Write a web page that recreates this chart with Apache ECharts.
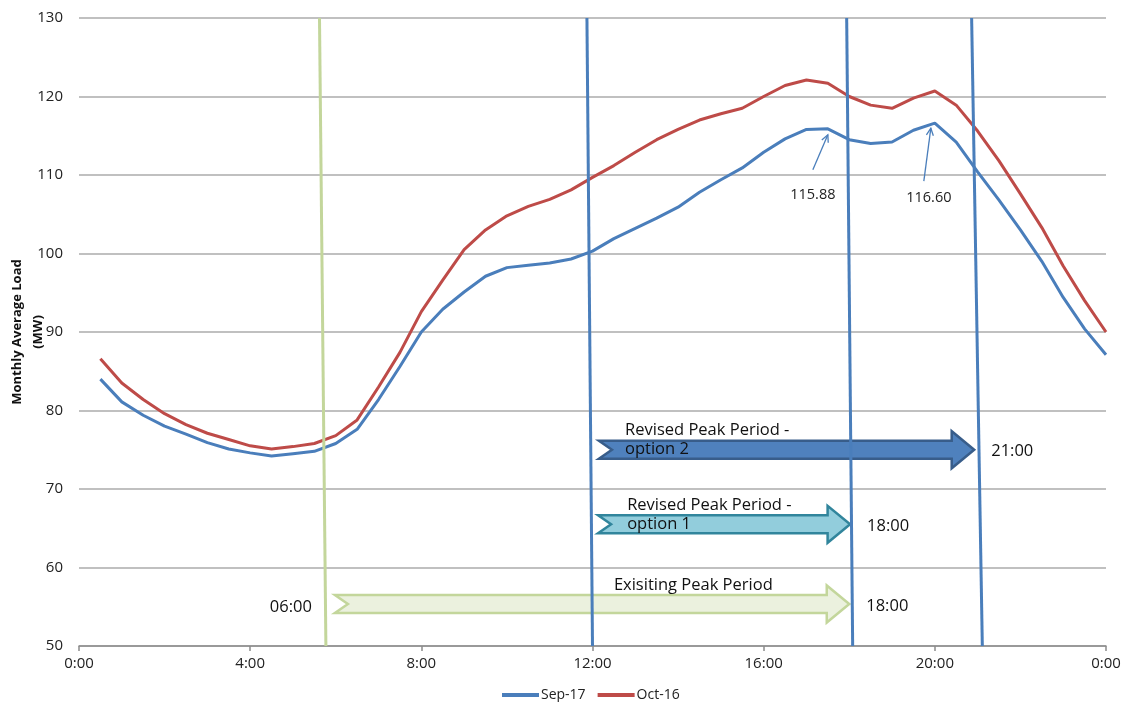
<!DOCTYPE html>
<html>
<head>
<meta charset="utf-8">
<script src="https://cdn.jsdelivr.net/npm/echarts@6/dist/echarts.min.js"></script>
<style>
  html, body { margin: 0; padding: 0; background: #ffffff; }
  #chart { width: 1126px; height: 702px; }
</style>
</head>
<body>
<div id="chart"></div>
<script>
// Half-hourly readings, hours after midnight (24 = midnight of the next day)
const hours = [0.5, 1, 1.5, 2, 2.5, 3, 3.5, 4, 4.5, 5, 5.5, 6, 6.5, 7, 7.5, 8,
  8.5, 9, 9.5, 10, 10.5, 11, 11.5, 12, 12.5, 13, 13.5, 14, 14.5, 15, 15.5, 16,
  16.5, 17, 17.5, 18, 18.5, 19, 19.5, 20, 20.5, 21, 21.5, 22, 22.5, 23, 23.5, 24];

// Monthly average load (MW)
const sep17 = [84.0, 81.1, 79.4, 78.0, 77.0, 75.9, 75.1, 74.6, 74.2, 74.5, 74.8, 75.8,
  77.6, 81.4, 85.6, 90.0, 92.9, 95.1, 97.1, 98.2, 98.5, 98.8, 99.3, 100.3,
  101.9, 103.2, 104.5, 105.9, 107.8, 109.4, 110.9, 112.9, 114.6, 115.8, 115.88, 114.5,
  114.0, 114.2, 115.7, 116.60, 114.2, 110.4, 106.8, 103.0, 99.0, 94.4, 90.4, 87.1];

const oct16 = [86.6, 83.5, 81.4, 79.6, 78.2, 77.1, 76.3, 75.5, 75.1, 75.4, 75.8, 76.8,
  78.8, 83.0, 87.4, 92.6, 96.6, 100.5, 103.0, 104.8, 106.0, 106.9, 108.1, 109.7,
  111.2, 112.9, 114.5, 115.8, 117.0, 117.8, 118.5, 120.0, 121.4, 122.1, 121.7, 120.0,
  118.9, 118.5, 119.8, 120.7, 118.9, 115.6, 111.8, 107.6, 103.3, 98.4, 94.0, 90.0];

// Axis ticks
const tickHours = [0, 4, 8, 12, 16, 20, 24];
const tickLabels = ['0:00', '4:00', '8:00', '12:00', '16:00', '20:00', '0:00'];
const loadTicks = [50, 60, 70, 80, 90, 100, 110, 120, 130];

// Period boundary lines, [hour, MW] at the top and at the bottom of the plot
const boundary06 = [[5.62, 130], [5.77, 50]];
const boundary12 = [[11.87, 130], [12.0, 50]];
const boundary18 = [[17.94, 130], [18.08, 50]];
const boundary21 = [[20.86, 130], [21.11, 50]];

// Peak period arrows
const periodStart = [5.98, 12.13, 12.15];
const periodEnd = [18.0, 18.02, 20.92];
const periodLevel = [55.35, 65.5, 75.0];
const periodTitles = ['Exisiting Peak Period', 'Revised Peak Period -\noption 1', 'Revised Peak Period -\noption 2'];
const periodTitleHour = [12.5, 12.81, 12.76];
const periodStartLabels = ['06:00', '', ''];
const periodEndLabels = ['18:00', '18:00', '21:00'];

// Sep-17 peaks that get a callout
const peakHours = [17.5, 20.0];

// ---- styling ----
const FONT = '"Open Sans", "DejaVu Sans", sans-serif';
const BLUE = '#4a7ebb';
const RED = '#be4b48';
const periodStyles = [
  { fill: '#ebf1de', stroke: '#c3d69b' },
  { fill: '#92cddc', stroke: '#31859c' },
  { fill: '#4f81bd', stroke: '#385d8a' }
];
const calloutLayout = [
  { tip: [0, 6], tail: [-15, 41], text: [-15, 66] },
  { tip: [-4, 5], tail: [-11, 58], text: [-6, 75] }
];

const chart = echarts.init(document.getElementById('chart'), null, { renderer: 'canvas' });

const periodData = periodStart.map((s, i) => [s, periodEnd[i], periodLevel[i], i]);
const peakData = peakHours.map(h => [h, sep17[hours.indexOf(h)]]);

function renderPeriod(params, api) {
  const i = api.value(3);
  const tail = api.coord([api.value(0), api.value(2)]);
  const tip = api.coord([api.value(1), api.value(2)]);
  const y = tail[1];
  const body = 9, head = 18.5, headLen = 22.5, notch = 13;
  const st = periodStyles[i];
  const children = [{
    type: 'polygon',
    shape: {
      points: [
        [tail[0], y - body], [tip[0] - headLen, y - body], [tip[0] - headLen, y - head],
        [tip[0], y], [tip[0] - headLen, y + head], [tip[0] - headLen, y + body],
        [tail[0], y + body], [tail[0] + notch, y]
      ]
    },
    style: { fill: st.fill, stroke: st.stroke, lineWidth: 2.5, lineJoin: 'miter' }
  }];
  const title = periodTitles[i];
  const tx = api.coord([periodTitleHour[i], api.value(2)])[0];
  const twoLines = title.indexOf('\n') >= 0;
  children.push({
    type: 'text',
    style: {
      text: title, x: tx, y: twoLines ? y + 9.5 : y - 9.5,
      align: 'left', verticalAlign: 'bottom', lineHeight: 19,
      fill: '#111', font: '16.5px ' + FONT
    }
  });
  children.push({
    type: 'text',
    style: {
      text: periodEndLabels[i], x: tip[0] + 17, y: y + 2,
      align: 'left', verticalAlign: 'middle', fill: '#111', font: '16.5px ' + FONT
    }
  });
  if (periodStartLabels[i]) {
    children.push({
      type: 'text',
      style: {
        text: periodStartLabels[i], x: tail[0] - 23, y: y + 3,
        align: 'right', verticalAlign: 'middle', fill: '#111', font: '16.5px ' + FONT
      }
    });
  }
  return { type: 'group', children: children };
}

function renderPeak(params, api) {
  const i = params.dataIndex;
  const p = api.coord([api.value(0), api.value(1)]);
  const L = calloutLayout[i];
  const tip = [p[0] + L.tip[0], p[1] + L.tip[1]];
  const tail = [p[0] + L.tail[0], p[1] + L.tail[1]];
  const ang = Math.atan2(tail[1] - tip[1], tail[0] - tip[0]);
  const a = 8, spread = 0.45;
  const h1 = [tip[0] + a * Math.cos(ang + spread), tip[1] + a * Math.sin(ang + spread)];
  const h2 = [tip[0] + a * Math.cos(ang - spread), tip[1] + a * Math.sin(ang - spread)];
  const lineStyle = { stroke: BLUE, lineWidth: 1.3, fill: null };
  return {
    type: 'group',
    children: [
      { type: 'line', shape: { x1: tail[0], y1: tail[1], x2: tip[0], y2: tip[1] }, style: lineStyle },
      { type: 'polyline', shape: { points: [h1, tip, h2] }, style: lineStyle },
      {
        type: 'text',
        style: {
          text: api.value(1).toFixed(2), x: p[0] + L.text[0], y: p[1] + L.text[1],
          align: 'center', verticalAlign: 'middle', fill: '#222', font: '14.5px ' + FONT
        }
      }
    ]
  };
}

function boundarySeries(data, color) {
  return {
    type: 'line', data: data, silent: true, showSymbol: false, z: 5,
    lineStyle: { color: color, width: 3 }, animation: false
  };
}

chart.setOption({
  animation: false,
  backgroundColor: '#ffffff',
  textStyle: { fontFamily: FONT },
  grid: { left: 79, right: 20, top: 18, bottom: 56, containLabel: false, outerBoundsMode: 'none' },
  legend: {
    data: ['Sep-17', 'Oct-16'],
    left: 497, top: 683,
    icon: 'rect', itemWidth: 37, itemHeight: 4, itemGap: 12,
    textStyle: { fontSize: 14, color: '#222', fontFamily: FONT, padding: [0, 0, 0, -3] }
  },
  xAxis: {
    type: 'value', min: 0, max: 24, interval: 4,
    axisLine: { show: true, onZero: false, lineStyle: { color: '#8c8c8c', width: 1.5 } },
    axisTick: { show: true, length: 5, lineStyle: { color: '#8c8c8c', width: 1.5 } },
    axisLabel: {
      margin: 10, fontSize: 15, color: '#222', fontFamily: FONT,
      formatter: v => tickLabels[tickHours.indexOf(v)] || ''
    },
    splitLine: { show: false }
  },
  yAxis: {
    type: 'value', min: loadTicks[0], max: loadTicks[loadTicks.length - 1], interval: 10,
    name: 'Monthly Average Load\n(MW)',
    nameLocation: 'middle', nameGap: 30, nameMoveOverlap: false,
    nameTextStyle: { fontSize: 13, fontWeight: 'bold', color: '#111', lineHeight: 21, fontFamily: FONT },
    axisLine: { show: false },
    axisTick: { show: false },
    axisLabel: { margin: 16, fontSize: 15, color: '#222', fontFamily: FONT },
    splitLine: { show: true, lineStyle: { color: '#ababab', width: 1.5 } }
  },
  series: [
    {
      name: 'Sep-17', type: 'line', data: hours.map((h, i) => [h, sep17[i]]),
      showSymbol: false, color: BLUE, lineStyle: { color: BLUE, width: 3 }, z: 3
    },
    {
      name: 'Oct-16', type: 'line', data: hours.map((h, i) => [h, oct16[i]]),
      showSymbol: false, color: RED, lineStyle: { color: RED, width: 3 }, z: 2
    },
    {
      type: 'custom', renderItem: renderPeriod, data: periodData, z: 4, silent: true,
      encode: { x: [0, 1], y: 2 }, clip: false
    },
    boundarySeries(boundary06, '#c3d69b'),
    boundarySeries(boundary12, BLUE),
    boundarySeries(boundary18, BLUE),
    boundarySeries(boundary21, BLUE),
    {
      type: 'custom', renderItem: renderPeak, data: peakData, z: 6, silent: true,
      encode: { x: 0, y: 1 }, clip: false
    }
  ]
});
</script>
</body>
</html>
